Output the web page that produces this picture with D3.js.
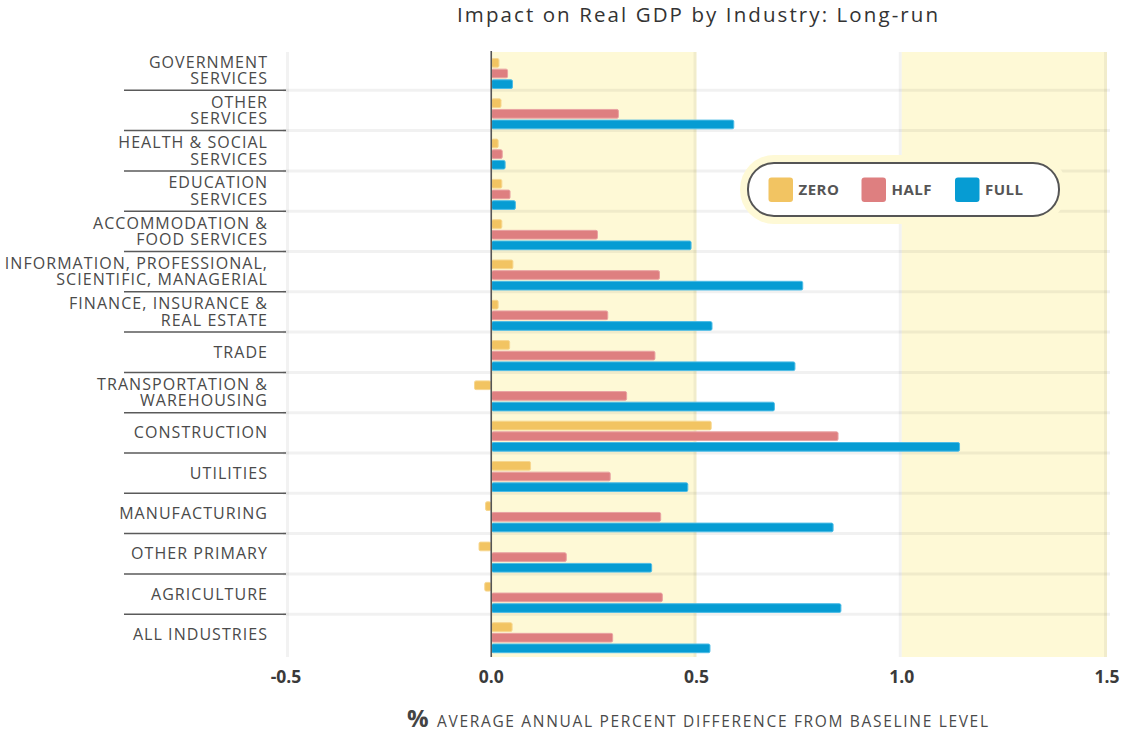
<!DOCTYPE html>
<html>
<head>
<meta charset="utf-8">
<script src="https://cdn.jsdelivr.net/npm/d3@7"></script>
<style>
  html, body { margin: 0; padding: 0; background: #fff; }
  svg { display: block; }
  text { font-family: "Open Sans", "Noto Sans", sans-serif; }
</style>
</head>
<body>
<svg id="chart" width="1121" height="732"></svg>
<script>
// ---------- DATA ----------
const categories = [
  ["GOVERNMENT", "SERVICES"],
  ["OTHER", "SERVICES"],
  ["HEALTH & SOCIAL", "SERVICES"],
  ["EDUCATION", "SERVICES"],
  ["ACCOMMODATION &", "FOOD SERVICES"],
  ["INFORMATION, PROFESSIONAL,", "SCIENTIFIC, MANAGERIAL"],
  ["FINANCE, INSURANCE &", "REAL ESTATE"],
  ["TRADE"],
  ["TRANSPORTATION &", "WAREHOUSING"],
  ["CONSTRUCTION"],
  ["UTILITIES"],
  ["MANUFACTURING"],
  ["OTHER PRIMARY"],
  ["AGRICULTURE"],
  ["ALL INDUSTRIES"]
];
const seriesNames = ["ZERO", "HALF", "FULL"];
const zeroValues = [0.020, 0.025, 0.018, 0.027, 0.027, 0.054, 0.018, 0.046, -0.042, 0.537, 0.097, -0.015, -0.031, -0.017, 0.052];
const halfValues = [0.041, 0.311, 0.028, 0.047, 0.260, 0.411, 0.285, 0.400, 0.331, 0.846, 0.291, 0.414, 0.184, 0.418, 0.297];
const fullValues = [0.053, 0.592, 0.035, 0.060, 0.488, 0.760, 0.539, 0.741, 0.691, 1.142, 0.480, 0.834, 0.392, 0.853, 0.534];
const xTicks = [-0.5, 0.0, 0.5, 1.0, 1.5];
const xTickLabels = ["-0.5", "0.0", "0.5", "1.0", "1.5"];
const titleText = "Impact on Real GDP by Industry: Long-run";
const axisTitleText = "AVERAGE ANNUAL PERCENT DIFFERENCE FROM BASELINE LEVEL";

// ---------- SETUP ----------
const colors = { ZERO: "#F2C462", HALF: "#DE7F80", FULL: "#069CD3" };
const strokeColors = { ZERO: "#F7D78F", HALF: "#E9A3A3", FULL: "#4DBCE6" };
const valuesBySeries = { ZERO: zeroValues, HALF: halfValues, FULL: fullValues };

const svg = d3.select("#chart");
const x = d3.scaleLinear().domain([-0.5, 1.5]).range([286, 1107]);
const catKeys = categories.map(c => c.join(" "));
const y = d3.scaleBand().domain(catKeys).range([50, 654.5]).paddingInner(0).paddingOuter(0);
const yInner = d3.scaleBand().domain(seriesNames).range([8, 39]).paddingInner(0.09);

const plotTop = 52, plotBottom = 657;

function fitSpacing(sel, target) {
  sel.each(function() {
    const t = d3.select(this);
    t.attr("letter-spacing", 0);
    const w = this.getComputedTextLength();
    const n = t.text().length;
    if (n > 1) t.attr("letter-spacing", ((target - w) / (n - 1)).toFixed(3));
  });
}

// yellow bands (0–0.5 and 1.0–1.5)
const bandPairs = [[xTicks[1], xTicks[2]], [xTicks[3], xTicks[4]]];
svg.append("g").selectAll("rect").data(bandPairs).join("rect")
  .attr("x", d => x(d[0]))
  .attr("width", d => x(d[1]) - x(d[0]))
  .attr("y", plotTop).attr("height", plotBottom - plotTop)
  .attr("fill", "#FEF9D6");

// vertical grid lines (semi transparent)
svg.append("g").selectAll("line").data(xTicks.filter(v => v !== 0)).join("line")
  .attr("x1", d => x(d) - (d > 0 ? 1.5 : -1.5)).attr("x2", d => x(d) - (d > 0 ? 1.5 : -1.5))
  .attr("y1", plotTop).attr("y2", plotBottom)
  .attr("stroke", "rgba(0,0,0,0.05)").attr("stroke-width", 3);

// horizontal separators in plot
const sepKeys = catKeys.slice(1);
svg.append("g").selectAll("line").data(sepKeys).join("line")
  .attr("x1", x(-0.5) - 3).attr("x2", x(1.5) + 3)
  .attr("y1", d => y(d)).attr("y2", d => y(d))
  .attr("stroke", "rgba(0,0,0,0.055)").attr("stroke-width", 3);

// label separators (dark)
svg.append("g").selectAll("line").data(sepKeys).join("line")
  .attr("x1", 124).attr("x2", x(-0.5))
  .attr("y1", d => y(d)).attr("y2", d => y(d))
  .attr("stroke", "#5a5a5a").attr("stroke-width", 1.5);

// bars
const barData = [];
catKeys.forEach((k, i) => {
  seriesNames.forEach(s => barData.push({ cat: k, series: s, value: valuesBySeries[s][i] }));
});
svg.append("g").selectAll("rect").data(barData).join("rect")
  .attr("x", d => x(Math.min(0, d.value)) + 0.5)
  .attr("width", d => Math.max(0, Math.abs(x(d.value) - x(0)) - 1))
  .attr("y", d => y(d.cat) + yInner(d.series) + 0.5)
  .attr("height", yInner.bandwidth() - 1)
  .attr("rx", 1.5)
  .attr("fill", d => colors[d.series])
  .attr("stroke", d => strokeColors[d.series])
  .attr("stroke-width", 1);

// zero line
svg.append("line")
  .attr("x1", x(0)).attr("x2", x(0))
  .attr("y1", plotTop - 1).attr("y2", plotBottom)
  .attr("stroke", "#555").attr("stroke-width", 1.6);

// category labels
const lab = svg.append("g");
categories.forEach((lines, i) => {
  const cy = y(catKeys[i]) + y.bandwidth() / 2 + 1.3;
  lines.forEach((ln, j) => {
    const off = lines.length === 1 ? 0 : (j === 0 ? -8.2 : 8.2);
    lab.append("text")
      .attr("x", 268).attr("y", cy + off)
      .attr("text-anchor", "end").attr("dominant-baseline", "middle")
      .attr("font-size", 16).attr("fill", "#4a4a4a")
      .attr("letter-spacing", 1.05)
      .text(ln);
  });
});

// x axis tick labels
svg.append("g").selectAll("text").data(xTicks).join("text")
  .attr("x", d => x(d)).attr("y", 678)
  .attr("text-anchor", "middle").attr("dominant-baseline", "middle")
  .attr("font-size", 17.5).attr("font-weight", 700).attr("fill", "#3a3a3a")
  .text((d, i) => xTickLabels[i]);

// axis title
svg.append("text").attr("x", 407).attr("y", 726.5)
  .attr("font-size", 24).attr("font-weight", 700).attr("fill", "#444").text("%");
const at = svg.append("text").attr("x", 437).attr("y", 726.5)
  .attr("font-size", 15.5).attr("fill", "#4a4a4a").text(axisTitleText);
fitSpacing(at, 551);

// title
const tt = svg.append("text").attr("x", 457).attr("y", 21.5)
  .attr("font-size", 20.5).attr("fill", "#333").text(titleText);
fitSpacing(tt, 481);

// legend
const lg = svg.append("g");
lg.append("rect").attr("x", 740).attr("y", 155).attr("width", 327).attr("height", 69)
  .attr("rx", 34).attr("fill", "#FEF9D6");
lg.append("rect").attr("x", 748).attr("y", 163).attr("width", 311).attr("height", 53)
  .attr("rx", 26).attr("fill", "#fff").attr("stroke", "#555").attr("stroke-width", 2);
const legX = d3.scaleOrdinal().domain(seriesNames).range([768.5, 861.5, 955]);
const li = lg.selectAll("g.li").data(seriesNames).join("g").attr("class", "li");
li.append("rect").attr("x", d => legX(d)).attr("y", 177.5).attr("width", 24.5).attr("height", 24.5)
  .attr("rx", 3).attr("fill", d => colors[d]);
li.append("text").attr("x", d => legX(d) + 30).attr("y", 190.5)
  .attr("dominant-baseline", "middle").attr("font-size", 15).attr("font-weight", 700)
  .attr("fill", "#555").attr("letter-spacing", 0.5).text(d => d);
</script>
</body>
</html>
